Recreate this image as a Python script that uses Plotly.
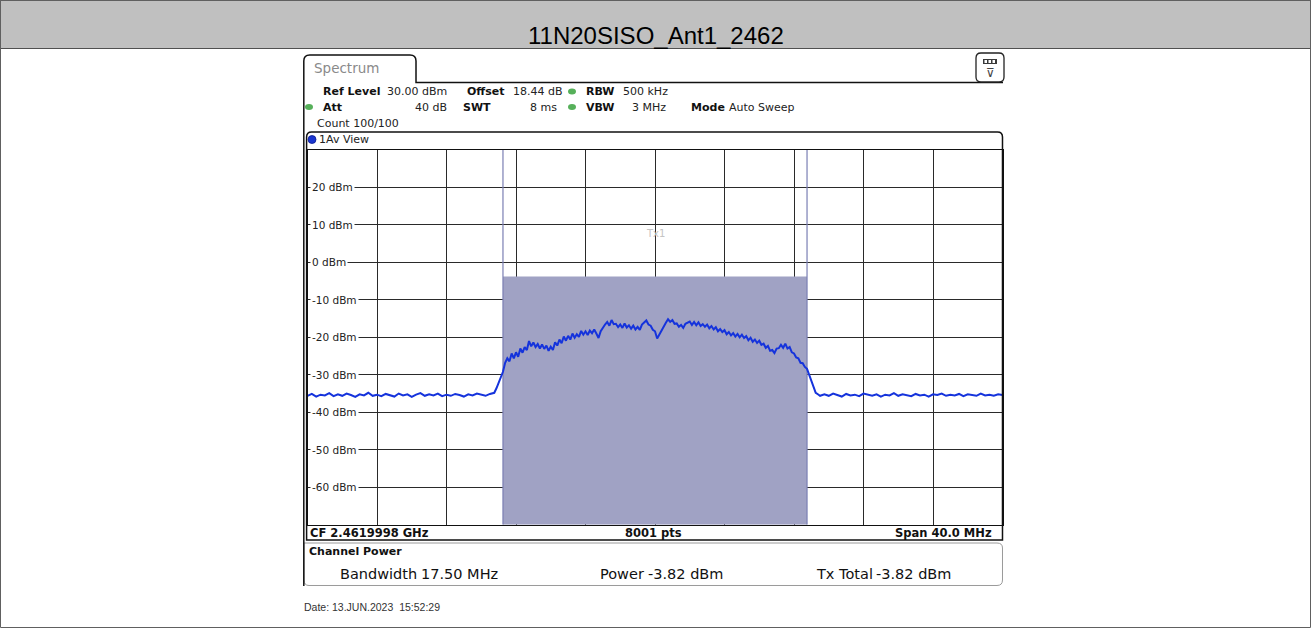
import plotly.graph_objects as go

W, H = 1311, 628

# ---------------- data ----------------
TITLE = "11N20SISO_Ant1_2462"
SPAN_MHZ = 40.0
REF_LEVEL = 30.0
BOTTOM_LEVEL = -70.0
CHANNEL_BW_MHZ = 17.50
CHANNEL_POWER_DBM = -3.82

Y_TICK_VALUES = [20, 10, 0, -10, -20, -30, -40, -50, -60]
Y_TICK_LABELS = ["20 dBm", "10 dBm", "0 dBm", "-10 dBm", "-20 dBm", "-30 dBm",
                 "-40 dBm", "-50 dBm", "-60 dBm"]

# frequency offset from CF (MHz) / level (dBm)
freq_left = [-20.0, -19.75, -19.5, -19.25, -19.0, -18.75, -18.5, -18.25, -18.0, -17.75,
             -17.5, -17.25, -17.0, -16.75, -16.5, -16.25, -16.0, -15.75, -15.5, -15.25,
             -15.0, -14.75, -14.5, -14.25, -14.0, -13.75, -13.5, -13.25, -13.0, -12.75,
             -12.5, -12.25, -12.0, -11.75, -11.5, -11.25, -11.0, -10.75, -10.5, -10.25,
             -10.0, -9.75, -9.5]
level_left = [-35.6, -35.1, -35.8, -35.3, -35.5, -34.9, -35.7, -35.2, -35.6, -35.0,
              -35.4, -35.9, -35.2, -35.5, -34.8, -35.6, -35.3, -35.7, -35.1, -35.4,
              -35.8, -35.0, -35.5, -35.2, -35.9, -35.3, -34.9, -35.6, -35.2, -35.5,
              -35.0, -35.7, -35.3, -35.6, -35.1, -35.4, -35.8, -35.2, -35.5, -35.0,
              -35.4, -35.6, -35.1]

freq_chan = [-9.25, -9.125, -9.0, -8.875, -8.75, -8.625, -8.5, -8.375, -8.25, -8.125,
             -8.0, -7.875, -7.75, -7.625, -7.5, -7.375, -7.25, -7.125, -7.0, -6.875,
             -6.75, -6.625, -6.5, -6.375, -6.25, -6.125, -6.0, -5.875, -5.75, -5.625,
             -5.5, -5.375, -5.25, -5.125, -5.0, -4.875, -4.75, -4.625, -4.5, -4.375,
             -4.25, -4.125, -4.0, -3.875, -3.75, -3.625, -3.5, -3.375, -3.25, -3.125,
             -3.0, -2.875, -2.75, -2.625, -2.5, -2.375, -2.25, -2.125, -2.0, -1.875,
             -1.75, -1.625, -1.5, -1.375, -1.25, -1.125, -1.0, -0.875, -0.75, -0.625,
             -0.5, -0.375, -0.25, -0.125, 0.0, 0.125, 0.25, 0.375, 0.5, 0.625,
             0.75, 0.875, 1.0, 1.125, 1.25, 1.375, 1.5, 1.625, 1.75, 1.875,
             2.0, 2.125, 2.25, 2.375, 2.5, 2.625, 2.75, 2.875, 3.0, 3.125,
             3.25, 3.375, 3.5, 3.625, 3.75, 3.875, 4.0, 4.125, 4.25, 4.375,
             4.5, 4.625, 4.75, 4.875, 5.0, 5.125, 5.25, 5.375, 5.5, 5.625,
             5.75, 5.875, 6.0, 6.125, 6.25, 6.375, 6.5, 6.625, 6.75, 6.875,
             7.0, 7.125, 7.25, 7.375, 7.5, 7.625, 7.75, 7.875, 8.0, 8.125,
             8.25, 8.375, 8.5, 8.625, 8.75, 8.875, 9.0, 9.125, 9.25, 9.375,
             9.5]
level_chan = [-34.8, -33.6, -32.0, -30.6, -29.2, -26.8, -25.6, -26.4, -24.3, -25.6,
              -24.0, -25.2, -23.0, -24.1, -22.6, -23.4, -21.0, -22.4, -21.4, -22.6,
              -21.8, -23.0, -21.9, -23.1, -22.2, -23.6, -22.5, -23.4, -21.3, -22.2,
              -20.6, -21.6, -19.8, -20.9, -19.6, -20.6, -19.0, -20.1, -19.2, -19.9,
              -18.3, -19.3, -18.4, -19.4, -18.2, -18.9, -17.9, -19.0, -20.2, -18.4,
              -17.4, -16.6, -15.9, -16.9, -15.4, -16.5, -16.4, -17.3, -16.6, -17.5,
              -16.3, -17.4, -16.8, -17.7, -16.9, -17.9, -17.2, -18.0, -16.6, -16.0,
              -15.5, -16.6, -16.9, -18.0, -18.4, -20.3, -19.2, -18.3, -16.9, -16.1,
              -15.2, -15.9, -15.4, -16.4, -16.3, -17.2, -16.7, -17.5, -16.4, -16.2,
              -15.8, -16.7, -15.9, -16.8, -16.0, -17.0, -16.5, -17.2, -16.6, -17.6,
              -17.0, -17.9, -17.3, -18.4, -17.8, -18.6, -18.1, -19.2, -18.6, -19.5,
              -18.9, -19.8, -19.1, -20.0, -19.3, -20.2, -19.7, -20.8, -20.1, -21.2,
              -20.6, -21.5, -20.9, -22.0, -21.7, -22.8, -22.3, -23.6, -23.4, -24.2,
              -23.0, -22.9, -22.0, -22.8, -21.7, -23.0, -22.6, -24.0, -24.3, -25.4,
              -25.6, -26.8, -26.9, -27.9, -28.4, -30.0, -31.6, -33.4, -34.8, -35.2,
              -35.6]

freq_right = [9.75, 10.0, 10.25, 10.5, 10.75, 11.0, 11.25, 11.5, 11.75, 12.0,
              12.25, 12.5, 12.75, 13.0, 13.25, 13.5, 13.75, 14.0, 14.25, 14.5,
              14.75, 15.0, 15.25, 15.5, 15.75, 16.0, 16.25, 16.5, 16.75, 17.0,
              17.25, 17.5, 17.75, 18.0, 18.25, 18.5, 18.75, 19.0, 19.25, 19.5,
              19.75, 20.0]
level_right = [-35.2, -35.6, -35.0, -35.4, -35.8, -35.1, -35.5, -35.3, -35.7, -35.0,
               -35.4, -35.6, -35.2, -35.8, -35.3, -35.5, -34.9, -35.6, -35.2, -35.4,
               -35.7, -35.1, -35.5, -35.3, -35.8, -35.2, -35.4, -35.0, -35.6, -35.3,
               -35.5, -35.1, -35.7, -35.2, -35.4, -35.6, -35.0, -35.5, -35.3, -35.6,
               -35.2, -35.4]

assert len(freq_left) == len(level_left)
assert len(freq_chan) == len(level_chan)
assert len(freq_right) == len(level_right)

freq = freq_left + freq_chan + freq_right
level = level_left + level_chan + level_right

# ---------------- helpers ----------------
def px(x):
    return x / W


def py(y):
    return 1 - y / H


def P(x, y):
    return f"{px(x):.5f},{py(y):.5f}"


GRID_L, GRID_R = 307.5, 1002.5
GRID_T, GRID_B = 149.8, 524.8

fig = go.Figure()

half_bw = CHANNEL_BW_MHZ / 2
# channel power shaded area
fig.add_trace(go.Scatter(
    x=[-half_bw, -half_bw, half_bw, half_bw, -half_bw],
    y=[BOTTOM_LEVEL, CHANNEL_POWER_DBM, CHANNEL_POWER_DBM, BOTTOM_LEVEL, BOTTOM_LEVEL],
    fill="toself", fillcolor="#a0a2c4", mode="lines",
    line=dict(color="#a0a2c4", width=0), hoverinfo="skip", showlegend=False))
# channel edge lines
for xe in (-half_bw, half_bw):
    fig.add_trace(go.Scatter(
        x=[xe, xe], y=[BOTTOM_LEVEL, REF_LEVEL], mode="lines",
        line=dict(color="#7a7fb4", width=1.2), hoverinfo="skip", showlegend=False))
# spectrum trace
fig.add_trace(go.Scatter(
    x=freq, y=level, mode="lines",
    line=dict(color="#1533dc", width=2.0), hoverinfo="skip", showlegend=False))

fig.update_xaxes(domain=[px(GRID_L), px(GRID_R)], range=[-SPAN_MHZ / 2, SPAN_MHZ / 2],
                 tick0=-SPAN_MHZ / 2, dtick=SPAN_MHZ / 10, showgrid=True,
                 gridcolor="#2a2a2a", gridwidth=1, showticklabels=False, ticks="",
                 zeroline=False, showline=True, linecolor="#111", linewidth=1,
                 mirror=True, fixedrange=True)
fig.update_yaxes(domain=[py(GRID_B), py(GRID_T)], range=[BOTTOM_LEVEL, REF_LEVEL],
                 tick0=BOTTOM_LEVEL, dtick=10, showgrid=True,
                 gridcolor="#2a2a2a", gridwidth=1, showticklabels=False, ticks="",
                 zeroline=False, showline=True, linecolor="#111", linewidth=1,
                 mirror=True, fixedrange=True)

shapes = []
# outer border
shapes.append(dict(type="rect", xref="paper", yref="paper", x0=px(0.5), x1=px(W - 0.5),
                   y0=py(H - 0.5), y1=py(0.5), line=dict(color="#606060", width=1),
                   fillcolor="rgba(0,0,0,0)", layer="above"))
# title bar
shapes.append(dict(type="rect", xref="paper", yref="paper", x0=px(0), x1=px(W),
                   y0=py(48.5), y1=py(0), line=dict(color="#505050", width=1),
                   fillcolor="#c0c0c0", layer="below"))
# channel power box (gray, rounded)
shapes.append(dict(type="path", xref="paper", yref="paper",
                   path=(f"M{P(304, 543)} L{P(997, 543)} Q{P(1002.5, 543)} {P(1002.5, 548)} "
                         f"L{P(1002.5, 580)} Q{P(1002.5, 585.5)} {P(997, 585.5)} "
                         f"L{P(309, 585.5)} Q{P(304, 585.5)} {P(304, 580)} Z"),
                   line=dict(color="#9a9a9a", width=1), fillcolor="rgba(0,0,0,0)", layer="above"))
# spectrum tab + line
shapes.append(dict(type="path", xref="paper", yref="paper",
                   path=(f"M{P(303.8, 586)} L{P(303.8, 61)} Q{P(303.8, 55)} {P(309.8, 55)} "
                         f"L{P(410, 55)} Q{P(416, 55)} {P(416, 61)} L{P(416, 82.5)} L{P(1003, 82.5)}"),
                   line=dict(color="#111", width=1.5), layer="above"))
# inner plot frame
shapes.append(dict(type="path", xref="paper", yref="paper",
                   path=(f"M{P(306.6, 540)} L{P(306.6, 137)} Q{P(306.6, 132)} {P(311.6, 132)} "
                         f"L{P(997.5, 132)} Q{P(1002.5, 132)} {P(1002.5, 137)} L{P(1002.5, 540)} Z"),
                   line=dict(color="#111", width=1.5), fillcolor="rgba(0,0,0,0)", layer="above"))
# icon box
shapes.append(dict(type="path", xref="paper", yref="paper",
                   path=(f"M{P(981, 53)} L{P(999, 53)} Q{P(1004, 53)} {P(1004, 58)} "
                         f"L{P(1004, 77)} Q{P(1004, 82)} {P(999, 82)} L{P(981, 82)} "
                         f"Q{P(976, 82)} {P(976, 77)} L{P(976, 58)} Q{P(976, 53)} {P(981, 53)} Z"),
                   line=dict(color="#222", width=1.3), fillcolor="white", layer="above"))
shapes.append(dict(type="rect", xref="paper", yref="paper", x0=px(983), x1=px(997),
                   y0=py(64), y1=py(59), line=dict(width=0), fillcolor="#3a3a3a", layer="above"))
for bx in (984.5, 988.5, 992.5):
    shapes.append(dict(type="rect", xref="paper", yref="paper", x0=px(bx), x1=px(bx + 2.5),
                       y0=py(63), y1=py(60), line=dict(width=0), fillcolor="white", layer="above"))
# green status dots
for (gx, gy) in [(572, 91.5), (309, 107), (572, 107)]:
    shapes.append(dict(type="circle", xref="paper", yref="paper", x0=px(gx - 4), x1=px(gx + 4),
                       y0=py(gy + 3), y1=py(gy - 3), line=dict(width=0),
                       fillcolor="#56b05a", layer="above"))
# blue trace dot
shapes.append(dict(type="circle", xref="paper", yref="paper", x0=px(308), x1=px(316),
                   y0=py(143.5), y1=py(135.5), line=dict(color="#0a1a90", width=0.8),
                   fillcolor="#1a36d0", layer="above"))

annotations = []


def txt(text, x, y, size=11, color="#111", xanchor="left", family="DejaVu Sans", **kw):
    annotations.append(dict(text=text, x=px(x), y=py(y), xref="paper", yref="paper",
                            xanchor=xanchor, yanchor="middle", showarrow=False,
                            font=dict(size=size, color=color, family=family), **kw))


# title
txt(TITLE, 655.5, 36, size=24, color="#000", xanchor="center",
    family="Liberation Sans Narrow, Liberation Sans, Arial")

# header
txt("Spectrum", 312, 68, size=13.5, color="#8a8a8a")
txt("<b>Ref Level</b>", 321, 91.5)
txt("30.00 dBm", 385, 91.5, color="#222")
txt("<b>Offset</b>", 465, 91.5)
txt("18.44 dB", 511, 91.5, color="#222")
txt("<b>RBW</b>", 584, 91.5)
txt("500 kHz", 621, 91.5, color="#222")
txt("<b>Att</b>", 321, 107)
txt("40 dB", 449, 107, color="#222", xanchor="right")
txt("<b>SWT</b>", 461, 107)
txt("8 ms", 559, 107, color="#222", xanchor="right")
txt("<b>VBW</b>", 584, 107)
txt("3 MHz", 668, 107, color="#222", xanchor="right")
txt("<b>Mode</b>", 689, 107)
txt("Auto Sweep", 727, 107, color="#222")
txt("Count 100/100", 315, 123, color="#222")
txt("1Av View", 317, 140, color="#222")
txt("⊽", 990, 73, size=12, color="#444", xanchor="center")

# y tick labels on the grid (data y coordinates)
for v, lab in zip(Y_TICK_VALUES, Y_TICK_LABELS):
    annotations.append(dict(text=lab, x=px(310), y=v, xref="paper", yref="y",
                            xanchor="left", yanchor="middle", showarrow=False,
                            bgcolor="white", borderpad=1,
                            font=dict(size=10.5, color="#222", family="DejaVu Sans")))

# Tx1 label in channel
annotations.append(dict(text="Tx1", x=0, y=7.8, xref="x", yref="y", showarrow=False,
                        xanchor="center", yanchor="middle",
                        font=dict(size=10, color="#c4c4c4", family="DejaVu Sans")))

# bottom info row
txt("<b>CF 2.4619998 GHz</b>", 308, 532.5, size=11.5)
txt("<b>8001 pts</b>", 653, 532.5, size=11.5, xanchor="center")
txt("<b>Span 40.0 MHz</b>", 994, 532.5, size=11.5, xanchor="right")

# channel power box
txt("<b>Channel Power</b>", 307, 551, size=11)
txt("Bandwidth", 338, 574, size=14.5)
txt("17.50 MHz", 419, 574, size=14.5)
txt("Power", 598, 574, size=14.5)
txt("-3.82 dBm", 646, 574, size=14.5)
txt("Tx Total", 814, 574, size=14.5)
txt("-3.82 dBm", 874, 574, size=14.5)

# date
txt("Date: 13.JUN.2023  15:52:29", 302, 607, size=10.5, color="#333",
    family="Liberation Sans Narrow, Liberation Sans, Arial")

fig.update_layout(width=W, height=H, autosize=False,
                  margin=dict(l=0, r=0, t=0, b=0),
                  paper_bgcolor="white", plot_bgcolor="white",
                  showlegend=False, shapes=shapes, annotations=annotations)

fig.write_html("out.html",
               config={"displayModeBar": False, "staticPlot": True},
               post_script="document.body.style.margin='0';document.body.style.padding='0';"
                           "document.body.style.overflow='hidden';")
